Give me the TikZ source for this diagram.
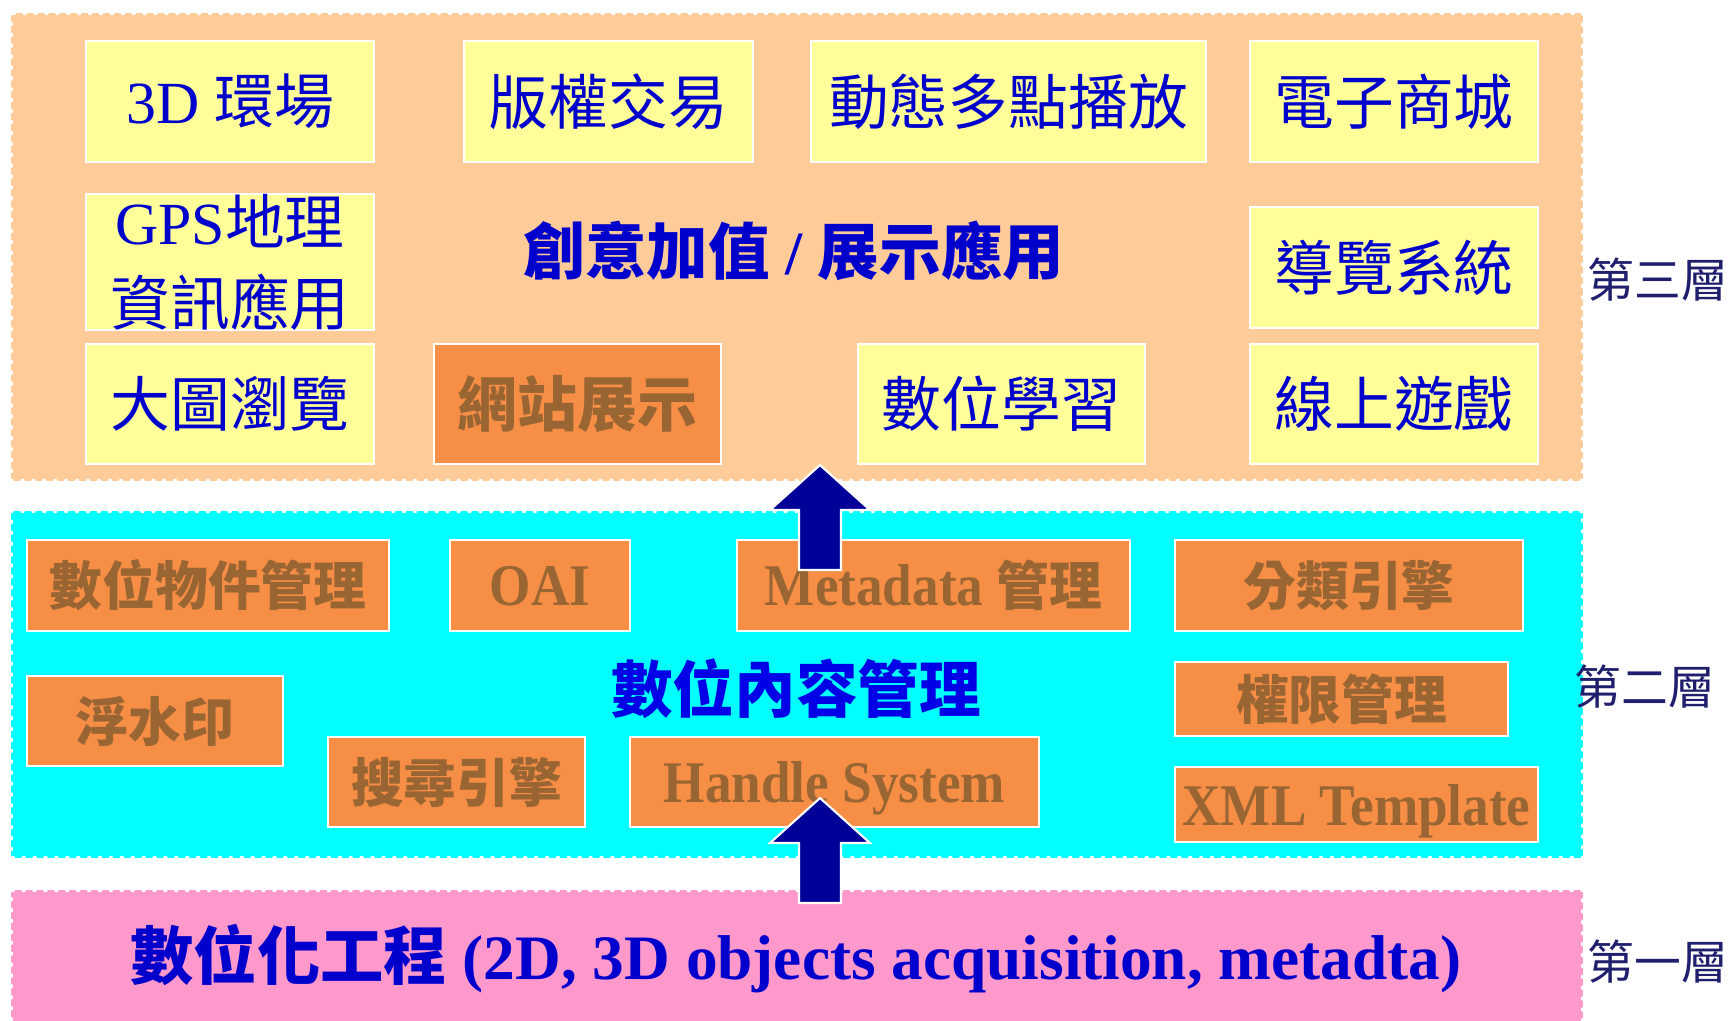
\documentclass[tikz,border=0pt]{standalone}
\usepackage{fontspec}
\setmainfont{Liberation Serif}
\newfontfamily\cjk{Noto Sans CJK TC}
\newfontfamily\latcond[FakeStretch=0.9]{Liberation Serif}
\definecolor{peachfill}{HTML}{FFCC99}
\definecolor{cyanfill}{HTML}{00FFFF}
\definecolor{pinkfill}{HTML}{FF99CC}
\definecolor{yelfill}{HTML}{FFFF99}
\definecolor{orgfill}{HTML}{F78E46}
\definecolor{txtblue}{HTML}{0000CC}
\definecolor{txtbrown}{HTML}{996633}
\definecolor{midblue}{HTML}{0000E6}
\definecolor{arrownavy}{HTML}{000099}
\definecolor{lblnavy}{HTML}{1F1F6E}
\begin{document}
\begin{tikzpicture}[x=0.01cm,y=-0.01cm,
    layerdots/.style={draw=white,line width=1.3pt,line cap=round,dash pattern=on 0pt off 3.1pt},
    yelbox/.style={draw=white,line width=0.6pt,fill=yelfill,text=txtblue,inner sep=0pt,
      font=\fontsize{17}{21}\selectfont},
    orgbox/.style={draw=white,line width=0.6pt,fill=orgfill,text=txtbrown,inner sep=0pt,
      font=\bfseries\fontsize{15}{18}\selectfont},
    orglat/.style={font=\latcond\bfseries\fontsize{16.8}{20}\selectfont,text depth=0pt},
    title/.style={font=\bfseries\fontsize{17.5}{21}\selectfont},
    lbl/.style={text=lblnavy,inner sep=0pt,font=\fontsize{13.3}{16}\selectfont},
    blockarrow/.style={fill=arrownavy,draw=white,line width=0.6pt}]
    \useasboundingbox (0,0) rectangle (1733,1020);
    % layers
    \fill[peachfill] (11,13) rectangle (1583,481);
    \draw[layerdots] (11,13) rectangle (1583,481);
    \fill[cyanfill] (11,511) rectangle (1583,858);
    \draw[layerdots] (11,511) rectangle (1583,858);
    \fill[pinkfill] (11,890) rectangle (1583,1030);
    \draw[layerdots] (11,1030) -- (11,890) -- (1583,890) -- (1583,1030);
    % third layer
    \node[yelbox,minimum width=2.88cm,minimum height=1.21cm] (env3d) at (230,101.5) {3D {\cjk 環場}};
    \node[yelbox,minimum width=2.89cm,minimum height=1.21cm] (trade) at (608.5,101.5) {\cjk 版權交易};
    \node[yelbox,minimum width=3.95cm,minimum height=1.21cm] (multicast) at (1008.5,101.5) {\cjk 動態多點播放};
    \node[yelbox,minimum width=2.88cm,minimum height=1.21cm] (mall) at (1394,101.5) {\cjk 電子商城};
    \node[yelbox,minimum width=2.88cm,minimum height=1.36cm,align=center] (gpsinfo) at (230,262)
      {GPS{\cjk 地理}\\[2pt]{\cjk 資訊應用}};
    \node[yelbox,minimum width=2.88cm,minimum height=1.21cm] (guide) at (1394,267.5) {\cjk 導覽系統};
    \node[yelbox,minimum width=2.88cm,minimum height=1.20cm] (bigmap) at (230,404) {\cjk 大圖瀏覽};
    \node[orgbox,font=\bfseries\fontsize{17}{21}\selectfont,minimum width=2.87cm,minimum height=1.20cm]
      (website) at (577.5,404) {\cjk 網站展示};
    \node[yelbox,minimum width=2.87cm,minimum height=1.20cm] (elearn) at (1001.5,404) {\cjk 數位學習};
    \node[yelbox,minimum width=2.88cm,minimum height=1.20cm] (game) at (1394,404) {\cjk 線上遊戲};
    \node[title,text=txtblue] (toptitle) at (794,251) {{\cjk 創意加值} / {\cjk 展示應用}};
    % second layer
    \node[orgbox,minimum width=3.62cm,minimum height=0.91cm] (objmgmt) at (208,585.5) {\cjk 數位物件管理};
    \node[orgbox,orglat,minimum width=1.80cm,minimum height=0.91cm] (oai) at (540,585.5) {OAI};
    \node[orgbox,minimum width=3.93cm,minimum height=0.91cm] (meta) at (933.5,585.5)
      {{\latcond\fontsize{16.8}{20}\selectfont Metadata} {\cjk 管理}};
    \node[orgbox,minimum width=3.48cm,minimum height=0.91cm] (classify) at (1349,585.5) {\cjk 分類引擎};
    \node[orgbox,minimum width=2.56cm,minimum height=0.90cm] (watermark) at (155,721) {\cjk 浮水印};
    \node[orgbox,minimum width=2.57cm,minimum height=0.90cm] (search) at (456.5,782) {\cjk 搜尋引擎};
    \node[orgbox,orglat,minimum width=4.09cm,minimum height=0.90cm] (handle) at (834.5,782) {Handle System};
    \node[orgbox,minimum width=3.33cm,minimum height=0.74cm] (rights) at (1341.5,699) {\cjk 權限管理};
    \node[orgbox,orglat,minimum width=3.63cm,minimum height=0.75cm] (xmltpl) at (1356.5,804.5) {XML Template};
    \node[title,text=midblue] (midtitle) at (796,689) {\cjk 數位內容管理};
    % first layer
    \node[title,text=txtblue,font=\bfseries\fontsize{18}{22}\selectfont] (bottitle) at (796,959)
      {{\cjk 數位化工程} (2D, 3D objects acquisition, metadta)};
    % layer labels
    \node[lbl] (lbl3) at (1658,280) {\cjk 第三層};
    \node[lbl] (lbl2) at (1645,687) {\cjk 第二層};
    \node[lbl] (lbl1) at (1658,962) {\cjk 第一層};
    % arrows
    \filldraw[blockarrow] (820,465) -- ++(50,45) -- ++(-29,0) -- ++(0,60) -- ++(-42,0) -- ++(0,-60) -- ++(-29,0) -- cycle;
    \filldraw[blockarrow] (820,798) -- ++(50,45) -- ++(-29,0) -- ++(0,60) -- ++(-42,0) -- ++(0,-60) -- ++(-29,0) -- cycle;
\end{tikzpicture}
\end{document}
